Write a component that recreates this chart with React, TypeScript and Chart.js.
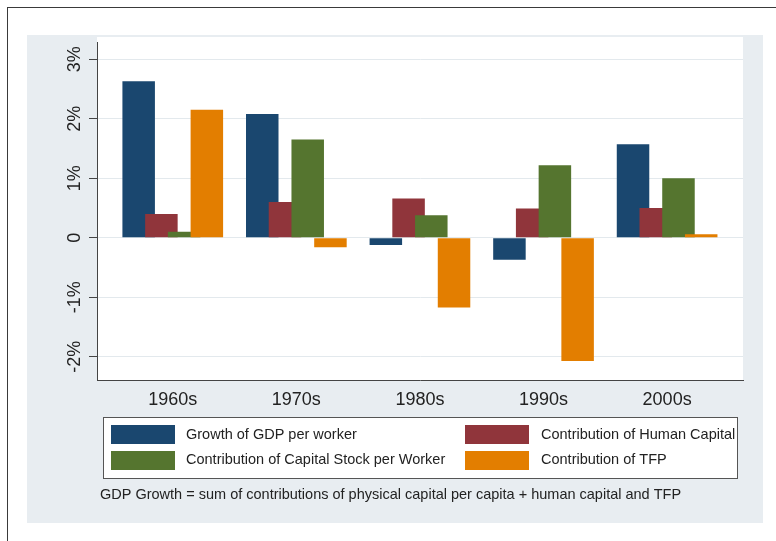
import React, { useEffect, useRef } from "react";
import { Chart, registerables } from "chart.js";

Chart.register(...registerables);

// ---- data ----
const decades = ["1960s", "1970s", "1980s", "1990s", "2000s"];
const gdpPerWorker = [2.63, 2.08, -0.12, -0.37, 1.57];
const humanCapital = [0.4, 0.6, 0.66, 0.49, 0.5];
const capitalStock = [0.1, 1.65, 0.38, 1.22, 1.0];
const tfp = [2.15, -0.16, -1.17, -2.07, 0.06];
const yTickValues = [-2, -1, 0, 1, 2, 3];
const yTickLabels = ["-2%", "-1%", "0", "1%", "2%", "3%"];
const seriesLabels = [
  "Growth of GDP per worker",
  "Contribution of Human Capital",
  "Contribution of Capital Stock per Worker",
  "Contribution of TFP",
];
const seriesColors = ["#1a476f", "#90353b", "#55752f", "#e37e00"];
const noteText =
  "GDP Growth = sum of contributions of physical capital per capita + human capital and TFP";

const FONT = '"Liberation Sans", Arial, Helvetica, sans-serif';

const backgroundPlugin = {
  id: "stataBackground",
  beforeDraw(chart: any) {
    const { ctx, width, height, chartArea } = chart;
    ctx.save();
    ctx.fillStyle = "#ffffff";
    ctx.fillRect(0, 0, width, height);
    ctx.strokeStyle = "#3a3a3a";
    ctx.lineWidth = 1;
    ctx.strokeRect(7.5, 7.5, width + 20, height + 20);
    ctx.fillStyle = "#e8edf1";
    ctx.fillRect(27, 35, 736, 488);
    ctx.fillStyle = "#ffffff";
    ctx.fillRect(chartArea.left, chartArea.top - 5, chartArea.right - chartArea.left, chartArea.bottom - chartArea.top + 5);
    ctx.restore();
  },
};

const drawOrderPlugin = {
  id: "drawOrder",
  beforeDatasetsDraw(chart: any) {
    const metas = chart.getSortedVisibleDatasetMetas().slice().sort((a: any, b: any) => a.index - b.index);
    for (const m of metas) m.controller.draw();
    return false;
  },
};

const legendPlugin = {
  id: "stataLegend",
  afterDraw(chart: any) {
    const { ctx } = chart;
    const ds = chart.data.datasets;
    ctx.save();
    const bx = 103, by = 417, bw = 635, bh = 61;
    ctx.fillStyle = "#ffffff";
    ctx.fillRect(bx, by, bw, bh);
    ctx.strokeStyle = "#555555";
    ctx.lineWidth = 1;
    ctx.strokeRect(bx + 0.5, by + 0.5, bw - 1, bh);
    const items = [
      { i: 0, sx: 111, sy: 425, tx: 186, ty: 434.5 },
      { i: 1, sx: 465, sy: 425, tx: 541, ty: 434.5 },
      { i: 2, sx: 111, sy: 451, tx: 186, ty: 460 },
      { i: 3, sx: 465, sy: 451, tx: 541, ty: 460 },
    ];
    ctx.beginPath();
    ctx.rect(bx + 1, by + 1, bw - 2, bh - 1);
    ctx.clip();
    ctx.font = `14.5px ${FONT}`;
    ctx.textBaseline = "middle";
    ctx.textAlign = "left";
    for (const it of items) {
      ctx.fillStyle = ds[it.i].backgroundColor;
      ctx.fillRect(it.sx, it.sy, 64, 19);
      ctx.fillStyle = "#222222";
      ctx.fillText(ds[it.i].label, it.tx, it.ty);
    }
    ctx.restore();
    ctx.save();
    ctx.font = `14.5px ${FONT}`;
    ctx.textBaseline = "middle";
    ctx.fillStyle = "#222222";
    ctx.fillText(noteText, 100, 495);
    ctx.restore();
  },
};

export default function App() {
  const canvasRef = useRef<HTMLCanvasElement | null>(null);

  useEffect(() => {
    const canvas = canvasRef.current;
    if (!canvas) return;
    const series = [gdpPerWorker, humanCapital, capitalStock, tfp];
    const chart = new Chart(canvas, {
      type: "bar",
      data: {
        datasets: series.map((arr, k) => ({
          label: seriesLabels[k],
          data: arr.map((v, i) => ({ x: i, y: v })),
          backgroundColor: seriesColors[k],
          borderWidth: 0,
          barPercentage: 1.43,
          categoryPercentage: 0.7356,
        })),
      },
      options: {
        responsive: false,
        animation: false,
        devicePixelRatio: 1,
        layout: { padding: { left: 40, right: 33, top: 42, bottom: 131 } },
        plugins: { legend: { display: false }, tooltip: { enabled: false }, title: { display: false } },
        scales: {
          x: {
            type: "linear",
            offset: false,
            min: -0.613,
            max: 4.614,
            afterBuildTicks: (s: any) => {
              s.ticks = decades.map((_, i) => ({ value: i }));
            },
            afterFit: (s: any) => {
              s.height = 30;
            },
            grid: { display: false, drawTicks: false, offset: false },
            border: { display: true, color: "#444444", width: 1 },
            ticks: {
              autoSkip: false,
              maxRotation: 0,
              minRotation: 0,
              padding: 9,
              color: "#222222",
              font: { family: FONT, size: 18 },
              callback: (v: any) => decades[v] ?? "",
            },
          },
          y: {
            type: "linear",
            min: -2.39,
            max: 3.29,
            afterBuildTicks: (s: any) => {
              s.ticks = yTickValues.map((v) => ({ value: v }));
            },
            afterFit: (s: any) => {
              s.width = 57;
            },
            grid: { color: "#e3e9ed", lineWidth: 1, tickColor: "#444444", tickLength: 8, drawTicks: true },
            border: { display: true, color: "#444444", width: 1 },
            ticks: {
              minRotation: 90,
              maxRotation: 90,
              align: "end",
              crossAlign: "center",
              padding: -11,
              color: "#222222",
              font: { family: FONT, size: 18 },
              callback: (v: any) => yTickLabels[yTickValues.indexOf(v)] ?? "",
            },
          },
        },
      } as any,
      plugins: [backgroundPlugin, drawOrderPlugin, legendPlugin],
    });
    return () => chart.destroy();
  }, []);

  return (
    <div style={{ position: "absolute", left: 0, top: 0, width: 776, height: 541 }}>
      <canvas ref={canvasRef} width={776} height={541} style={{ display: "block" }} />
    </div>
  );
}
